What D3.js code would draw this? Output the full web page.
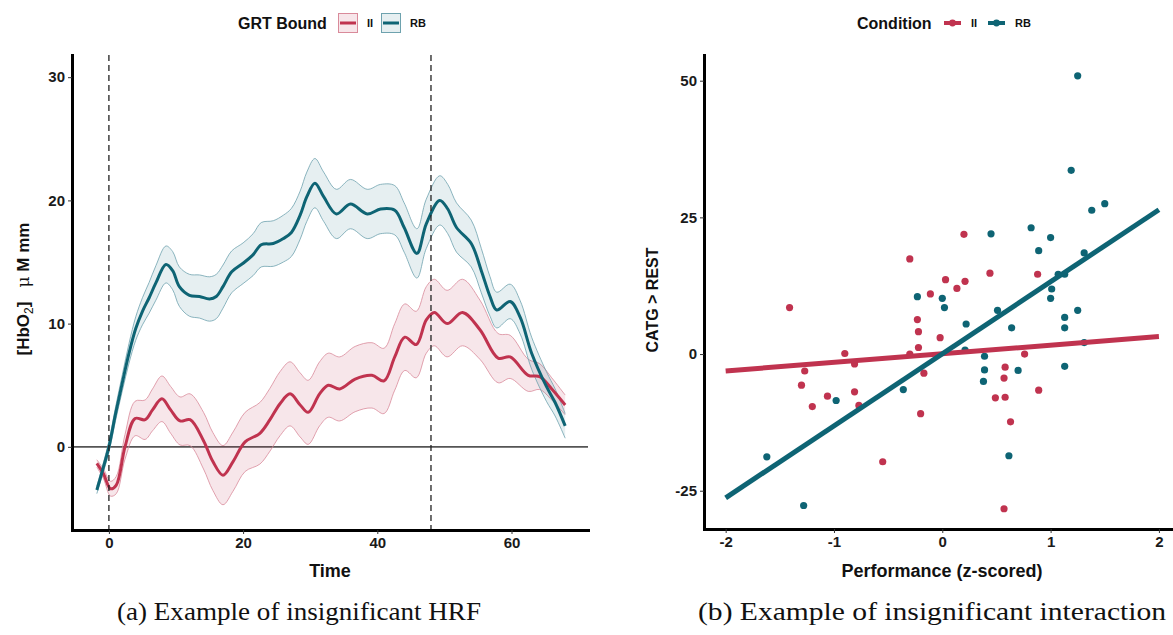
<!DOCTYPE html>
<html><head><meta charset="utf-8">
<script src="https://cdn.jsdelivr.net/npm/d3@7"></script>
<style>body{margin:0;background:#fff} svg{display:block}</style>
</head><body>
<svg id="c" width="1173" height="635"></svg>
<script>
// ---------- DATA ----------
const groups = ["II", "RB"];
// Panel (a): HRF time courses
const hrfTime_II = [-1.8,-0.8,0.25,1.1,2.4,3.9,5.4,6.5,7.9,9.2,10.6,12.1,14.1,15.5,17,18.5,20.3,22.5,24,25.5,27,28.5,29.7,31.4,32.7,34.4,36.7,39.2,41,42.6,44.1,45.8,47.3,48.5,50.4,52.7,55.3,58,59.8,62.5,64.2,66,68];
const hrfMean_II = [-1.35,-2.2,-3.4,-3.1,0.0,2.3,2.2,3.0,3.9,3.0,2.1,2.2,0.5,-1.2,-2.3,-1.2,0.4,1.1,2.2,3.5,4.3,3.4,2.8,4.3,5.0,4.7,5.5,5.8,5.35,7.3,8.9,8.3,10.3,10.9,10.0,10.9,9.5,7.2,7.3,5.8,5.7,4.7,3.4];
const hrfHW_II   = [0.3,0.4,0.6,0.7,1.0,1.4,1.6,1.7,1.85,1.9,1.95,2.1,2.3,2.35,2.4,2.4,2.4,2.5,2.55,2.6,2.6,2.6,2.6,2.6,2.6,2.6,2.65,2.65,2.65,2.7,2.7,2.7,2.7,2.7,2.7,2.7,2.4,2.0,1.75,1.3,1.05,0.9,0.8];

const hrfTime_RB = [-1.8,-1,0,1,2,3,4,5,6,7,8.5,9.5,10.5,12,13.5,15,16,17,18.3,20,21.5,22.7,24.5,26,27.2,28.5,29.5,30.7,32,33.9,36,38.5,40.5,42.6,44,45.9,47.3,49.3,50.5,51.8,54,55.5,56.8,57.8,59.8,61.3,63,65.2,66.5,68];
const hrfMean_RB = [-3.5,-2.0,0.0,2.7,5.2,7.6,9.6,11.0,12.1,13.3,14.8,14.3,13.0,12.3,12.2,12.0,12.2,13.0,14.2,14.9,15.6,16.4,16.5,16.9,17.4,18.8,20.3,21.4,20.3,18.9,19.7,18.9,19.3,19.2,17.8,15.7,18.1,20.0,19.3,17.8,16.5,14.3,12.2,11.1,11.8,10.5,7.6,4.9,3.6,1.7];
const hrfHW_RB   = [0.3,0.35,0.45,0.55,0.65,0.8,0.95,1.1,1.25,1.4,1.5,1.55,1.6,1.7,1.75,1.8,1.8,1.75,1.7,1.65,1.7,1.8,1.85,1.9,1.95,1.95,2.0,2.0,2.0,2.0,2.0,2.0,2.0,2.0,2.0,2.0,2.0,2.0,2.0,2.0,1.9,1.8,1.6,1.45,1.4,1.35,1.3,1.2,1.1,1.0];
const eventTimes = [0, 48];

// Panel (b): scatter + fits
const scatX_II = [-1.41,-1.30,-1.27,-1.20,-1.06,-0.90,-0.81,-0.81,-0.77,-0.55,-0.30,-0.30,-0.23,-0.22,-0.22,-0.20,-0.17,-0.11,-0.02,0.03,0.135,0.20,0.21,0.44,0.49,0.57,0.57,0.58,0.58,0.63,0.76,0.88,0.89];
const scatY_II = [8.5,-5.7,-3.1,-9.6,-7.7,0.1,-1.8,-6.9,-9.4,-19.7,17.4,0.0,6.3,4.1,1.2,-10.9,-3.5,11.0,3.0,13.6,12.0,21.9,13.3,14.8,-8.0,-4.4,-28.3,-2.4,-7.9,-12.4,0.0,14.6,-6.6];
const scatX_RB = [-1.62,-1.28,-0.98,-0.36,-0.23,0.00,0.02,0.21,0.22,0.38,0.39,0.39,0.45,0.51,0.615,0.64,0.70,0.82,0.89,1.00,1.00,1.01,1.07,1.13,1.13,1.13,1.13,1.19,1.25,1.25,1.31,1.31,1.38,1.50];
const scatY_RB = [-18.8,-27.7,-8.5,-6.5,10.5,10.2,8.5,0.7,5.5,-5.0,-0.4,-2.9,22.0,8.0,-18.6,4.8,-3.0,23.1,18.9,21.3,10.2,11.9,14.6,14.6,6.7,4.8,-2.25,33.6,50.9,8.0,18.5,2.1,26.3,27.5];
const fitX = [-2, 2];
const fitY_II = [-3.1, 3.2];
const fitY_RB = [-26.3, 26.4];

// Tick labels
const ticksAx = [0, 20, 40, 60];
const ticksAy = [0, 10, 20, 30];
const ticksBx = [-2, -1, 0, 1, 2];
const ticksBy = [-25, 0, 25, 50];

// ---------- STYLE ----------
const col = {II: "#C0334F", RB: "#0E6474"};
const bandStroke = {II: "#D98A9A", RB: "#6EA2AE"};
const sans = "'Liberation Sans', Arial, sans-serif";
const svg = d3.select("#c");

function styleAxis(g) {
  g.selectAll(".domain").attr("stroke", "#000").attr("stroke-width", 3).attr("stroke-linecap", "square");
  g.selectAll(".tick line").attr("stroke", "#333").attr("stroke-width", 1);
  g.selectAll(".tick text").attr("font-family", sans).attr("font-weight", "bold")
    .attr("font-size", 15).attr("fill", "#1a1a1a");
}
const fmt = d => String(d);

// ---------- PANEL A ----------
const xA = d3.scaleLinear().domain([-5.5, 71.4]).range([72, 588]);
const yA = d3.scaleLinear().domain([-6.75, 31.8]).range([530, 55]);
const gA = svg.append("g");

const series = {
  II: hrfTime_II.map((t, i) => ({t, m: hrfMean_II[i], h: hrfHW_II[i]})),
  RB: hrfTime_RB.map((t, i) => ({t, m: hrfMean_RB[i], h: hrfHW_RB[i]}))
};
const curve = d3.curveCatmullRom.alpha(0.5);
const area = d3.area().curve(curve).x(d => xA(d.t)).y0(d => yA(d.m - d.h)).y1(d => yA(d.m + d.h));
const lineU = d3.line().curve(curve).x(d => xA(d.t)).y(d => yA(d.m + d.h));
const lineL = d3.line().curve(curve).x(d => xA(d.t)).y(d => yA(d.m - d.h));
const lineM = d3.line().curve(curve).x(d => xA(d.t)).y(d => yA(d.m));

gA.append("line").attr("x1", 72).attr("x2", 588).attr("y1", yA(0)).attr("y2", yA(0))
  .attr("stroke", "#555").attr("stroke-width", 1.6);

groups.forEach(k => {
  gA.append("path").datum(series[k]).attr("d", area).attr("fill", col[k]).attr("fill-opacity", k === "II" ? 0.12 : 0.1);
  gA.append("path").datum(series[k]).attr("d", lineU).attr("fill", "none").attr("stroke", bandStroke[k]).attr("stroke-width", 0.8);
  gA.append("path").datum(series[k]).attr("d", lineL).attr("fill", "none").attr("stroke", bandStroke[k]).attr("stroke-width", 0.8);
});
groups.forEach(k => {
  gA.append("path").datum(series[k]).attr("d", lineM).attr("fill", "none").attr("stroke", col[k]).attr("stroke-width", 3);
});

gA.selectAll(".ev").data(eventTimes).enter().append("line")
  .attr("x1", d => xA(d)).attr("x2", d => xA(d)).attr("y1", 55).attr("y2", 530)
  .attr("stroke", "#222").attr("stroke-width", 1.3).attr("stroke-dasharray", "6,4");

gA.append("g").attr("transform", "translate(0,530)")
  .call(d3.axisBottom(xA).tickValues(ticksAx).tickFormat(fmt).tickSize(4).tickPadding(3).tickSizeOuter(0)).call(styleAxis);
gA.append("g").attr("transform", "translate(72,0)")
  .call(d3.axisLeft(yA).tickValues(ticksAy).tickFormat(fmt).tickSize(4).tickPadding(3).tickSizeOuter(0)).call(styleAxis);

gA.append("text").attr("x", 330).attr("y", 577).attr("text-anchor", "middle")
  .attr("font-family", sans).attr("font-weight", "bold").attr("font-size", 18).attr("fill", "#111").text("Time");

const yt = gA.append("text").attr("transform", "translate(29,289) rotate(-90)").attr("text-anchor", "middle")
  .attr("font-family", sans).attr("font-weight", "bold").attr("font-size", 17).attr("fill", "#111");
yt.append("tspan").text("[HbO");
yt.append("tspan").attr("font-size", 12).attr("font-weight", "normal").attr("dy", 4).text("2");
yt.append("tspan").attr("dy", -4).text("]\u00a0\u00a0\u00a0");
yt.append("tspan").attr("font-weight", "normal").attr("font-family", "'DejaVu Serif', serif").text("\u03bc");
yt.append("tspan").text("\u00a0M mm");

// legend A
const lgA = gA.append("g");
lgA.append("text").attr("x", 238).attr("y", 23).attr("dy", "0.35em").attr("font-family", sans)
  .attr("font-weight", "bold").attr("font-size", 16).attr("fill", "#111").text("GRT Bound");
const lgAx = {II: 338, RB: 381};
groups.forEach(k => {
  const x0 = lgAx[k];
  lgA.append("rect").attr("x", x0 + 0.5).attr("y", 13.5).attr("width", 19).attr("height", 19)
    .attr("fill", col[k]).attr("fill-opacity", k === "II" ? 0.12 : 0.1).attr("stroke", bandStroke[k]).attr("stroke-width", 1);
  lgA.append("line").attr("x1", x0 + 2).attr("x2", x0 + 18).attr("y1", 23).attr("y2", 23)
    .attr("stroke", col[k]).attr("stroke-width", 3);
  lgA.append("text").attr("x", x0 + 29).attr("y", 23).attr("dy", "0.35em").attr("font-family", sans)
    .attr("font-weight", "bold").attr("font-size", 11).attr("fill", "#111").text(k);
});

// ---------- PANEL B ----------
const xB = d3.scaleLinear().domain([-2.2, 2.13]).range([704, 1173]);
const yB = d3.scaleLinear().domain([-32, 54.7]).range([529, 55]);
const gB = svg.append("g");

const pts = {
  II: scatX_II.map((x, i) => ({x, y: scatY_II[i]})),
  RB: scatX_RB.map((x, i) => ({x, y: scatY_RB[i]}))
};
groups.forEach(k => {
  gB.append("g").selectAll("circle").data(pts[k]).enter().append("circle")
    .attr("cx", d => xB(d.x)).attr("cy", d => yB(d.y)).attr("r", 3.6).attr("fill", col[k]);
});
const fits = {II: fitY_II, RB: fitY_RB};
const fitLine = d3.line().x(d => xB(d[0])).y(d => yB(d[1]));
groups.forEach(k => {
  gB.append("path").datum(fitX.map((x, i) => [x, fits[k][i]])).attr("d", fitLine)
    .attr("stroke", col[k]).attr("stroke-width", 5).attr("fill", "none");
});

gB.append("g").attr("transform", "translate(0,529)")
  .call(d3.axisBottom(xB).tickValues(ticksBx).tickFormat(fmt).tickSize(4).tickPadding(3).tickSizeOuter(0)).call(styleAxis);
gB.append("g").attr("transform", "translate(704,0)")
  .call(d3.axisLeft(yB).tickValues(ticksBy).tickFormat(fmt).tickSize(4).tickPadding(3).tickSizeOuter(0)).call(styleAxis);

gB.append("text").attr("x", 942).attr("y", 577).attr("text-anchor", "middle")
  .attr("font-family", sans).attr("font-weight", "bold").attr("font-size", 18).attr("fill", "#111").text("Performance (z-scored)");
gB.append("text").attr("transform", "translate(658,300) rotate(-90)").attr("text-anchor", "middle")
  .attr("font-family", sans).attr("font-weight", "bold").attr("font-size", 16).attr("fill", "#111").text("CATG > REST");

// legend B
const lgB = gB.append("g");
lgB.append("text").attr("x", 857).attr("y", 23).attr("dy", "0.35em").attr("font-family", sans)
  .attr("font-weight", "bold").attr("font-size", 16).attr("fill", "#111").text("Condition");
const lgBx = {II: 944, RB: 988};
groups.forEach(k => {
  const x0 = lgBx[k];
  lgB.append("line").attr("x1", x0).attr("x2", x0 + 17).attr("y1", 23).attr("y2", 23)
    .attr("stroke", col[k]).attr("stroke-width", 4);
  lgB.append("circle").attr("cx", x0 + 8.5).attr("cy", 23).attr("r", 3.4).attr("fill", col[k]);
  lgB.append("text").attr("x", x0 + 27).attr("y", 23).attr("dy", "0.35em").attr("font-family", sans)
    .attr("font-weight", "bold").attr("font-size", 11).attr("fill", "#111").text(k);
});

// ---------- CAPTIONS ----------
const serif = "'Liberation Serif', 'DejaVu Serif', serif";
const caps = [
  {text: "(a) Example of insignificant HRF", x0: 117, w: 364},
  {text: "(b) Example of insignificant interaction", x0: 698, w: 468}
];
caps.forEach(c => svg.append("text").attr("x", c.x0).attr("y", 620)
  .attr("font-family", serif).attr("font-size", 25).attr("fill", "#111")
  .attr("textLength", c.w).attr("lengthAdjust", "spacingAndGlyphs").text(c.text));
</script>
</body></html>
